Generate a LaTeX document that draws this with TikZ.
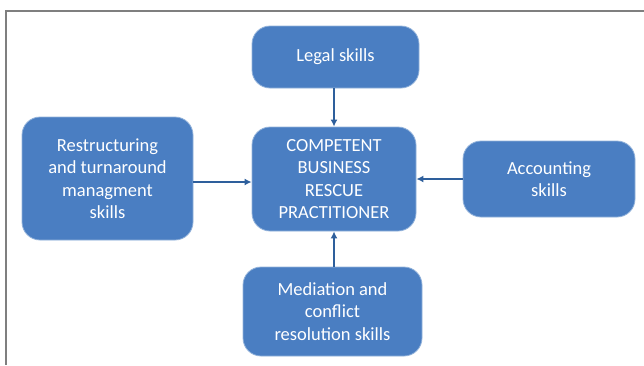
\documentclass[tikz,border=0pt]{standalone}
\usepackage{fontspec}
\setmainfont{Carlito}
\usetikzlibrary{arrows.meta}
\definecolor{boxblue}{HTML}{4A7EC2}
\definecolor{arrowblue}{HTML}{2E5F9C}
\definecolor{framegray}{HTML}{7F7F7F}
\tikzset{
  skillbox/.style={draw=boxblue!60!white, line width=0.8pt, fill=boxblue, rounded corners=18pt,
    text=white, align=center, font=\fontsize{18.5}{22.5}\selectfont, inner sep=0pt},
  link/.style={draw=arrowblue, line width=2pt, -{Latex[length=7pt,width=7pt]}},
  frameline/.style={draw=framegray, line width=1.6pt}
}
\begin{document}
\begin{tikzpicture}[x=1pt,y=-1pt]
\useasboundingbox (0,0) rectangle (644,365);
\coordinate (ftl) at (6,11);
\coordinate (ftr) at (644,11);
\coordinate (fbl) at (6,365);
\draw[frameline] (ftr) -- (ftl) -- (fbl);
\node[skillbox, minimum width=167pt, minimum height=62pt] (legal) at (335.5,57) {Legal skills};
\node[skillbox, minimum width=164pt, minimum height=104pt] (center) at (334,179) {COMPETENT\\BUSINESS\\RESCUE\\PRACTITIONER};
\node[skillbox, minimum width=171pt, minimum height=123pt] (restr) at (107.5,178.5) {Restructuring\\and turnaround\\managment\\skills};
\node[skillbox, minimum width=172pt, minimum height=76pt] (acc) at (549,179) {Accounting\\skills};
\node[skillbox, minimum width=179pt, minimum height=89pt] (med) at (332.5,311.5) {Mediation and\\conflict\\resolution skills};
\draw[link] (legal.south -| center.north) -- (center.north);
\draw[link] (restr.east |- 0,182) -- (center.west |- 0,182);
\draw[link] (acc.west |- 0,179) -- (center.east |- 0,179);
\draw[link] (med.north -| center.south) -- (center.south);
\end{tikzpicture}
\end{document}
